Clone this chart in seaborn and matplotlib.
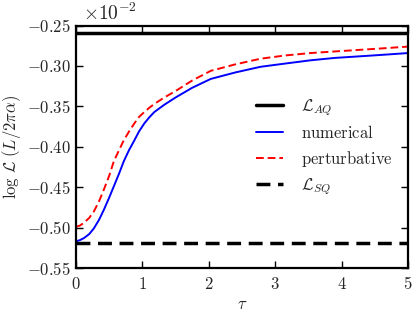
import numpy as np
import pandas as pd
import matplotlib
matplotlib.use("Agg")
import matplotlib.pyplot as plt
import seaborn as sns
from matplotlib.ticker import FuncFormatter

# values in units of 1e-2
tau = [0.0, 0.06, 0.12, 0.2, 0.27, 0.35, 0.42, 0.5, 0.57, 0.65, 0.72, 0.8,
       0.88, 0.95, 1.03, 1.1, 1.18, 1.33, 1.5, 1.75, 2.03, 2.4, 2.78, 3.15,
       3.53, 3.9, 4.28, 4.65, 5.0]
numerical = [-0.517, -0.5155, -0.513, -0.508, -0.501, -0.490, -0.478, -0.463,
             -0.449, -0.433, -0.418, -0.404, -0.392, -0.381, -0.371, -0.364,
             -0.357, -0.348, -0.339, -0.327, -0.316, -0.308, -0.301, -0.297,
             -0.293, -0.290, -0.288, -0.286, -0.284]
perturbative = [-0.499, -0.4975, -0.494, -0.488, -0.480, -0.467, -0.453, -0.436,
                -0.418, -0.404, -0.392, -0.381, -0.371, -0.363, -0.357, -0.352,
                -0.347, -0.339, -0.331, -0.318, -0.306, -0.298, -0.291, -0.287,
                -0.284, -0.282, -0.280, -0.278, -0.276]
L_AQ = -0.259
L_SQ = -0.519

xticks = [0, 1, 2, 3, 4, 5]
yticks = [-0.55, -0.50, -0.45, -0.40, -0.35, -0.30, -0.25]

sns.set_style("ticks")
plt.rcParams["mathtext.fontset"] = "cm"
plt.rcParams["font.family"] = ["DejaVu Serif"]
plt.rcParams["xtick.direction"] = "in"
plt.rcParams["ytick.direction"] = "in"

df = pd.DataFrame({"tau": tau, "numerical": numerical, "perturbative": perturbative})

fig = plt.figure(figsize=(4.15, 3.12), dpi=100)
ax = fig.add_axes([0.183, 0.141, 0.8, 0.777])

ax.axhline(L_AQ, color="black", lw=2.5, label=r"$\mathcal{L}_{AQ}$")
sns.lineplot(data=df, x="tau", y="numerical", ax=ax, color="blue", lw=1.4,
             label=r"$\mathrm{numerical}$")
sns.lineplot(data=df, x="tau", y="perturbative", ax=ax, color="red", lw=1.4,
             linestyle=(0, (4, 2)), label=r"$\mathrm{perturbative}$")
ax.axhline(L_SQ, color="black", lw=2.5, linestyle=(0, (4, 2.2)), label=r"$\mathcal{L}_{SQ}$")

ax.set_xlim(0, 5)
ax.set_ylim(-0.55, -0.25)
ax.set_xticks(xticks)
ax.set_yticks(yticks)
ax.xaxis.set_major_formatter(FuncFormatter(lambda v, p: r"$%d$" % v))
ax.yaxis.set_major_formatter(FuncFormatter(lambda v, p: r"$%.2f$" % v))
ax.tick_params(labelsize=12, length=5, width=1, top=True, right=True, color="black")
ax.tick_params(axis="x", pad=6)
for s in ax.spines.values():
    s.set_linewidth(1.6)
    s.set_color("black")

ax.set_xlabel(r"$\tau$", fontsize=12, labelpad=2)
ax.set_ylabel(r"$\log\,\mathcal{L}\ (L/2\pi\alpha)$", fontsize=12, labelpad=3)
ax.text(0.02, 1.005, r"$\times 10^{-2}$", transform=ax.transAxes, fontsize=14,
        ha="left", va="bottom")

ax.legend(loc="center right", bbox_to_anchor=(1.0, 0.50), frameon=False,
          fontsize=12, handlelength=1.6, handletextpad=1.1, labelspacing=0.42)

fig.savefig("out.png", dpi=100)
